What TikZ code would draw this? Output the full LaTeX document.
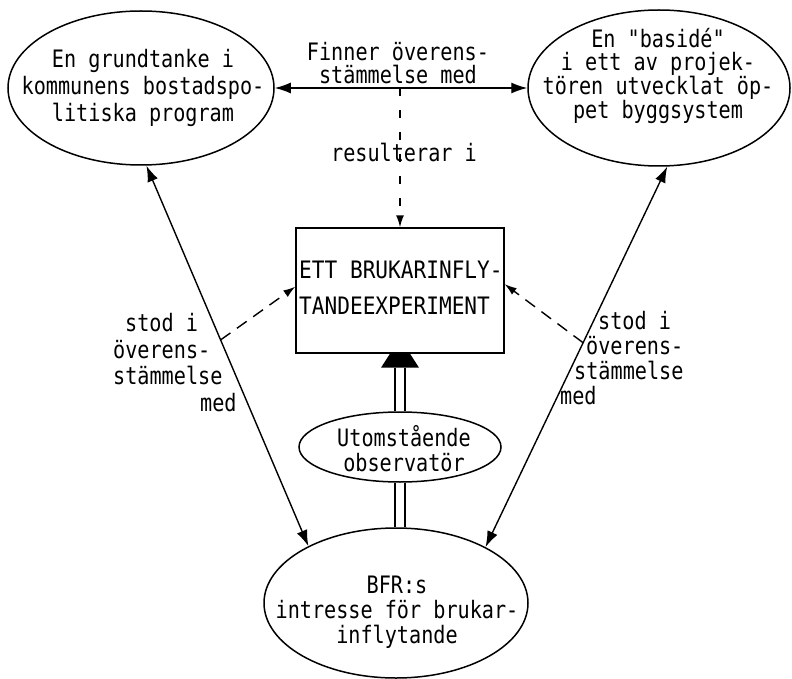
\documentclass[tikz,border=0pt]{standalone}
\usepackage{fontspec}
\newfontfamily\tw[FakeStretch=0.84]{DejaVu Sans Mono}
\newfontfamily\twb[FakeStretch=0.88]{DejaVu Sans Mono}
\usetikzlibrary{shapes.geometric,arrows.meta,calc}
\tikzset{
  oval/.style={ellipse, draw, line width=1.5pt, inner sep=0pt},
  txt/.style={font=\tw\fontsize{24}{25}\selectfont, align=center, inner sep=0pt},
  lbl/.style={font=\tw\fontsize{24}{25}\selectfont, inner sep=0pt, anchor=west, text height=17pt, text depth=4pt},
  con/.style={line width=1.4pt},
  tipL/.tip={Latex[length=16pt,width=11pt]},
  tipS/.tip={Latex[length=12pt,width=8pt]},
  dshV/.style={line width=1.4pt, dash pattern=on 8pt off 14pt},
  dshS/.style={line width=1.4pt, dash pattern=on 12pt off 8pt},
}
\begin{document}
\begin{tikzpicture}[x=1pt,y=-1pt]
\useasboundingbox (0,0) rectangle (792,679);
% shapes
\node[oval, minimum width=266pt, minimum height=154pt] (L) at (141,88) {};
\node[oval, minimum width=262pt, minimum height=156pt] (R) at (659,88) {};
\node[draw, con, minimum width=208pt, minimum height=125pt, inner sep=0pt] (X) at (400,290.5) {};
\node[oval, minimum width=202pt, minimum height=70pt] (U) at (400,447) {};
\node[oval, minimum width=264pt, minimum height=150pt] (B) at (396,603) {};
% texts
\node[txt, font=\tw\fontsize{24}{27}\selectfont] (Lt) at (143,88) {En grundtanke i\\kommunens bostadspo-\\litiska program};
\node[txt, font=\tw\fontsize{24}{23}\selectfont] (Rt) at (658,76) {En "basidé"\\i ett av projek-\\tören utvecklat öp-\\pet byggsystem};
\node[txt, font=\tw\fontsize{24}{23}\selectfont] (Ft) at (398,63) {Finner överens-\\stämmelse med};
\node[txt] (Rs) at (404,152) {resulterar i};
\node[lbl, font=\twb\fontsize{24}{25}\selectfont] (X1) at (299,272) {ETT BRUKARINFLY-};
\node[lbl, font=\twb\fontsize{24}{25}\selectfont] (X2) at (299,308) {TANDEEXPERIMENT};
\node[txt] (Ut) at (404,449) {Utomstående\\observatör};
\node[txt] (Bt) at (397,612) {BFR:s\\intresse för brukar-\\inflytande};
\node[lbl] (s1) at (125,325) {stod i};
\node[lbl] (s2) at (113,352) {överens-};
\node[lbl] (s3) at (113,378) {stämmelse};
\node[lbl] (s4) at (200,405) {med};
\node[lbl] (r1) at (598,323) {stod i};
\node[lbl] (r2) at (586,348) {överens-};
\node[lbl] (r3) at (574,373) {stämmelse};
\node[lbl] (r4) at (560,398) {med};
% connectors
\draw[con, tipL-tipL] (L.east) -- (R.west);
\coordinate (hm) at (400,88);
\draw[dshV, -tipS] (hm) -- (X.north);
\draw[con, tipL-tipL] (L.-86) -- (B.147);
\draw[con, tipL-tipL] (R.-84) -- (B.32);
\coordinate (ls) at ($(L.-86)!0.458!(B.147)$);
\coordinate (rs) at ($(R.-84)!0.463!(B.32)$);
\draw[dshS, -tipS] (ls) -- ($(X.north west)!0.47!(X.south west)$);
\draw[dshS, -tipS] (rs) -- ($(X.north east)!0.45!(X.south east)$);
\coordinate (tb) at ($(X.south)+(0,14)$);
\draw[line width=1.4pt, double, double distance=8.6pt] (U.north) -- (tb);
\fill ($(X.south)+(-10,0)$) -- ($(X.south)+(10,0)$) -- ($(X.south)+(19,14)$) -- ($(X.south)+(-19,14)$) -- cycle;
\draw[line width=1.4pt, double, double distance=8.6pt] (U.south) -- (U.south |- B.north);
\end{tikzpicture}
\end{document}
